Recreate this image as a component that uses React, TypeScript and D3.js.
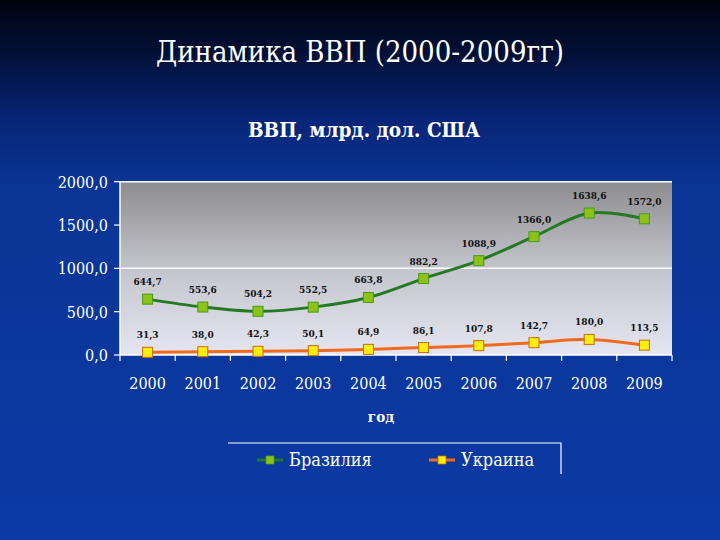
import React from "react";
import * as d3 from "d3";

const years = ["2000", "2001", "2002", "2003", "2004", "2005", "2006", "2007", "2008", "2009"];
const brazil = [644.7, 553.6, 504.2, 552.5, 663.8, 882.2, 1088.9, 1366.0, 1638.6, 1572.0];
const ukraine = [31.3, 38.0, 42.3, 50.1, 64.9, 86.1, 107.8, 142.7, 180.0, 113.5];
const yTicks = [0, 500, 1000, 1500, 2000];
const seriesNames = ["Бразилия", "Украина"];

const W = 720, H = 540;
const left = 120, right = 672, top = 181.7, bottom = 355;
const font = "'DejaVu Serif Condensed', 'DejaVu Serif', serif";

const fmt = (v: number) => v.toFixed(1).replace(".", ",");

export default function App() {
  const x = d3.scaleBand<string>().domain(years).range([left, right]);
  const y = d3.scaleLinear().domain([0, 2000]).range([bottom, top]);
  const cx = (yr: string) => (x(yr) as number) + x.bandwidth() / 2;
  const line = d3
    .line<number>()
    .x((_, i) => cx(years[i]))
    .y((d) => y(d))
    .curve(d3.curveCardinal.tension(0));

  const series = [
    { name: seriesNames[0], values: brazil, line: "#237a23", fill: "#8cc21a", stroke: "#4a9a1a" },
    { name: seriesNames[1], values: ukraine, line: "#f26a1e", fill: "#ffee10", stroke: "#c86a10" },
  ];

  return (
    <div style={{ position: "fixed", left: 0, top: 0 }}>
      <svg width={W} height={H} style={{ display: "block", fontFamily: font }}>
        <defs>
          <linearGradient id="bg" x1="0" y1="0" x2="0" y2="1">
            <stop offset="0" stopColor="#00030e" />
            <stop offset="0.1" stopColor="#021038" />
            <stop offset="0.22" stopColor="#072576" />
            <stop offset="0.35" stopColor="#0a3596" />
            <stop offset="1" stopColor="#0a3aa4" />
          </linearGradient>
          <linearGradient id="plotbg" x1="0" y1="0" x2="0" y2="1">
            <stop offset="0" stopColor="#8d8d8f" />
            <stop offset="0.5" stopColor="#c4c4cc" />
            <stop offset="1" stopColor="#e6e6f2" />
          </linearGradient>
        </defs>
        <rect x={0} y={0} width={W} height={H} fill="url(#bg)" />

        <text x={360} y={62} textAnchor="middle" fill="#ffffff" fontFamily={font} fontSize={29}>
          Динамика ВВП (2000-2009гг)
        </text>
        <text x={364} y={137} textAnchor="middle" fill="#ffffff" fontFamily={font} fontSize={20.5} fontWeight="bold">
          ВВП, млрд. дол. США
        </text>

        <rect x={left} y={top} width={right - left} height={bottom - top} fill="url(#plotbg)" />
        {[1000, 2000].map((t) => (
          <line key={t} x1={left} x2={right} y1={y(t)} y2={y(t)} stroke="#ffffff" strokeWidth={1.5} />
        ))}
        <line x1={left} x2={left} y1={top} y2={bottom} stroke="#ffffff" strokeWidth={1.5} />
        <line x1={left} x2={right} y1={bottom} y2={bottom} stroke="#ffffff" strokeWidth={1.5} />
        {yTicks.map((t) => (
          <g key={t}>
            <line x1={left - 6} x2={left} y1={y(t)} y2={y(t)} stroke="#ffffff" strokeWidth={1.2} />
            <text x={108} y={y(t) + 6} textAnchor="end" fill="#ffffff" fontFamily={font} fontSize={16}>
              {fmt(t)}
            </text>
          </g>
        ))}
        {years.map((yr) => (
          <line key={"t" + yr} x1={(x(yr) as number)} x2={(x(yr) as number)} y1={bottom} y2={bottom + 6} stroke="#ffffff" strokeWidth={1.2} />
        ))}
        <line x1={right} x2={right} y1={bottom} y2={bottom + 6} stroke="#ffffff" strokeWidth={1.2} />
        {years.map((yr) => (
          <text key={"l" + yr} x={cx(yr)} y={389} textAnchor="middle" fill="#ffffff" fontFamily={font} fontSize={16}>
            {yr}
          </text>
        ))}

        {series.map((s) => (
          <g key={s.name}>
            <path d={line(s.values) as string} fill="none" stroke={s.line} strokeWidth={3} />
            {s.values.map((v, i) => (
              <rect
                key={i}
                x={cx(years[i]) - 5}
                y={y(v) - 5}
                width={10}
                height={10}
                fill={s.fill}
                stroke={s.stroke}
                strokeWidth={1}
              />
            ))}
            {s.values.map((v, i) => (
              <text
                key={"d" + i}
                x={cx(years[i])}
                y={y(v) - 14}
                textAnchor="middle"
                fill="#111111"
                fontFamily={font}
                fontSize={10}
                fontWeight="bold"
              >
                {fmt(v)}
              </text>
            ))}
          </g>
        ))}

        <text x={381} y={422} textAnchor="middle" fill="#ffffff" fontFamily={font} fontSize={15} fontWeight="bold">
          год
        </text>

        <polyline points="228,443 561,443 561,474" fill="none" stroke="#ffffff" strokeWidth={1.2} />
        {series.map((s, i) => {
          const lx = i === 0 ? 270 : 442;
          return (
            <g key={"leg" + s.name}>
              <line x1={lx - 13} x2={lx + 13} y1={460} y2={460} stroke={s.line} strokeWidth={3} />
              <rect x={lx - 4} y={456} width={8} height={8} fill={s.fill} stroke={s.stroke} strokeWidth={0.8} />
              <text x={lx + 19} y={466} fill="#ffffff" fontFamily={font} fontSize={18}>
                {s.name}
              </text>
            </g>
          );
        })}
      </svg>
    </div>
  );
}
